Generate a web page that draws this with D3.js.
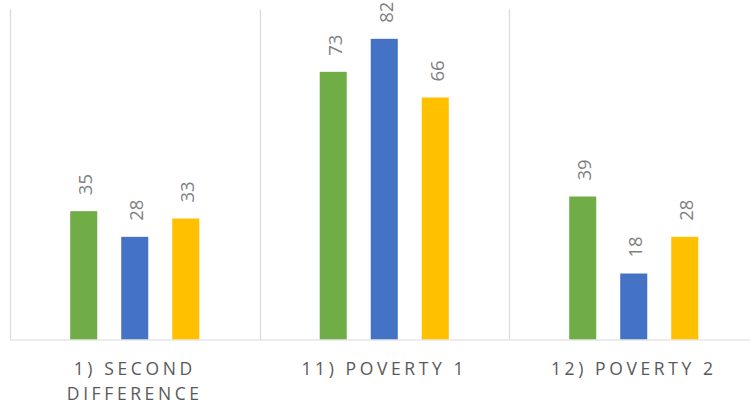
<!DOCTYPE html>
<html>
<head>
<meta charset="utf-8">
<script src="https://cdn.jsdelivr.net/npm/d3@7/dist/d3.min.js"></script>
<style>
  html, body { margin: 0; padding: 0; background: #ffffff; }
  svg { display: block; }
</style>
</head>
<body>
<div id="chart"></div>
<script>
// Categories and series values
const categories = ["1) SECOND DIFFERENCE", "11) POVERTY 1", "12) POVERTY 2"];
const seriesNames = ["Series A", "Series B", "Series C"];
const seriesA = [35, 73, 39];
const seriesB = [28, 82, 18];
const seriesC = [33, 66, 28];
const seriesColors = ["#70AD47", "#4472C4", "#FFC000"];
const yMax = 90;

const width = 750, height = 406;
const plot = { left: 10, top: 9.5, bottom: 339.5, groupWidth: 249.5 };

const svg = d3.select("#chart").append("svg")
  .attr("width", width).attr("height", height);

const x0 = d3.scaleBand()
  .domain(categories)
  .range([plot.left, plot.left + plot.groupWidth * categories.length])
  .paddingInner(0).paddingOuter(0);

const x1 = d3.scaleBand()
  .domain(seriesNames)
  .range([0, x0.bandwidth()])
  .paddingInner(0.47).paddingOuter(1.18);

const y = d3.scaleLinear().domain([0, yMax]).range([plot.bottom, plot.top]);

const values = [seriesA, seriesB, seriesC];
const rows = categories.map((c, i) => ({
  category: c,
  items: seriesNames.map((s, j) => ({ series: s, value: values[j][i], color: seriesColors[j] }))
}));

// Category separators (vertical gridlines at band edges)
const edges = categories.map(c => x0(c)).concat([x0.range()[1]]);
svg.append("g").selectAll("line").data(edges).join("line")
  .attr("x1", d => Math.round(d) + 0.5).attr("x2", d => Math.round(d) + 0.5)
  .attr("y1", plot.top).attr("y2", plot.bottom)
  .attr("stroke", "#D9D9D9").attr("stroke-width", 1.2);

// Bars
const groups = svg.append("g").selectAll("g").data(rows).join("g")
  .attr("transform", d => `translate(${x0(d.category)},0)`);

groups.selectAll("rect").data(d => d.items).join("rect")
  .attr("x", d => x1(d.series))
  .attr("width", x1.bandwidth())
  .attr("y", d => y(d.value))
  .attr("height", d => y(0) - y(d.value))
  .attr("fill", d => d.color);

// Value labels, rotated
groups.selectAll("text").data(d => d.items).join("text")
  .attr("transform", d => `translate(${x1(d.series) + x1.bandwidth() / 2 + 2},${y(d.value) - 16}) rotate(-90)`)
  .attr("dy", "0.36em")
  .attr("text-anchor", "start")
  .attr("font-family", "'Open Sans', sans-serif")
  .attr("font-size", 18.5)
  .attr("fill", "#808080")
  .text(d => d.value);

// Horizontal baseline
svg.append("line")
  .attr("x1", plot.left).attr("x2", width)
  .attr("y1", y(0) + 0.5).attr("y2", y(0) + 0.5)
  .attr("stroke", "#D9D9D9").attr("stroke-width", 1.2);

// Category labels with word wrapping
const labelG = svg.append("g");
categories.forEach(c => {
  const cx = x0(c) + x0.bandwidth() / 2;
  const t = labelG.append("text")
    .attr("text-anchor", "middle")
    .attr("font-family", "'Open Sans', sans-serif")
    .attr("font-size", 17.5)
    .attr("letter-spacing", "3.6px")
    .attr("fill", "#595959");
  const words = c.split(" ");
  const maxW = x0.bandwidth() * 0.9;
  let line = [], lineNo = 0;
  let tspan = t.append("tspan").attr("x", cx).attr("y", 374.5);
  words.forEach(w => {
    line.push(w);
    tspan.text(line.join(" "));
    if (tspan.node().getComputedTextLength() > maxW && line.length > 1) {
      line.pop();
      tspan.text(line.join(" "));
      line = [w];
      lineNo++;
      tspan = t.append("tspan").attr("x", cx).attr("y", 374.5 + lineNo * 25).text(w);
    }
  });
});
</script>
</body>
</html>
